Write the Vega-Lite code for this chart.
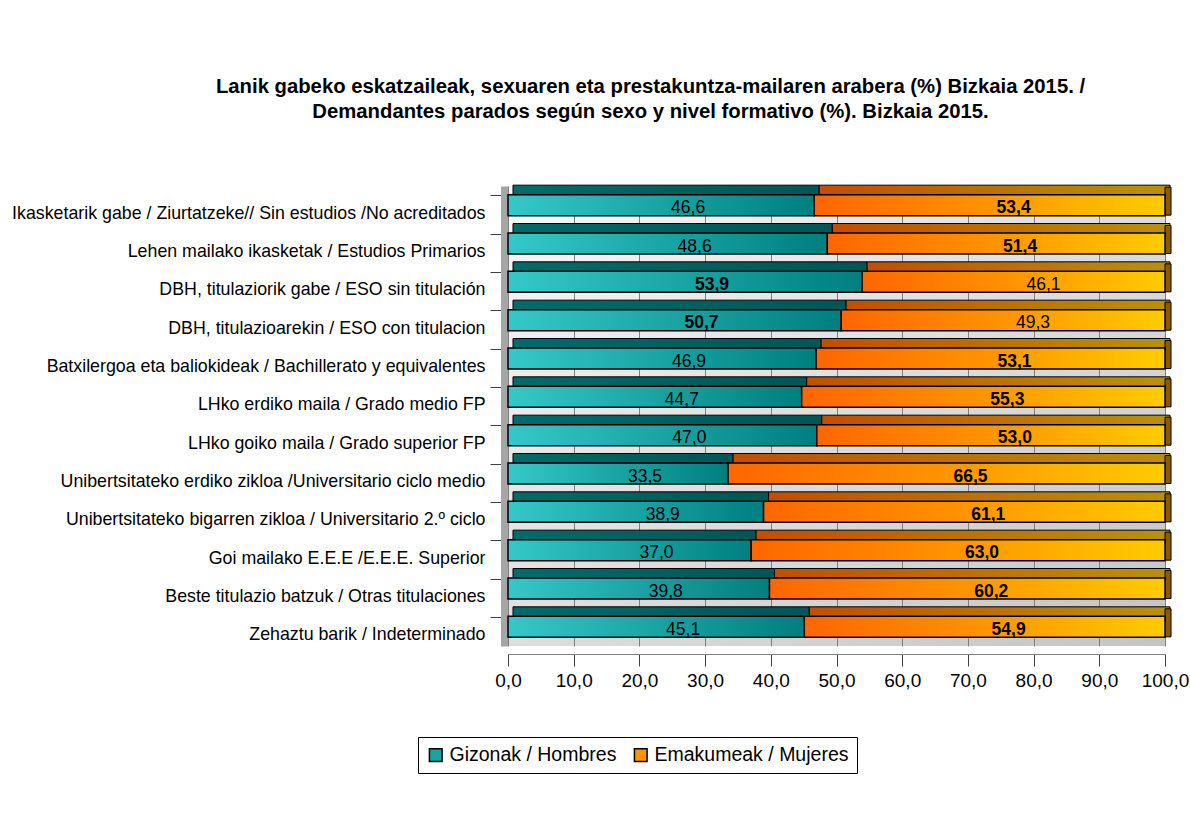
{
  "$schema": "https://vega.github.io/schema/vega-lite/v6.json",
  "autosize": "none",
  "padding": {"left": 508, "top": 186, "right": 25, "bottom": 192},
  "width": 657,
  "height": 460,
  "title": {
    "text": ["Lanik gabeko eskatzaileak, sexuaren eta prestakuntza-mailaren arabera (%) Bizkaia 2015. /", "Demandantes parados según sexo y nivel formativo (%). Bizkaia 2015."],
    "anchor": "middle",
    "frame": "group",
    "dx": -186,
    "offset": 62,
    "fontSize": 20.3,
    "fontWeight": "bold",
    "lineHeight": 25,
    "font": "Liberation Sans",
    "color": "#000000"
  },
  "data": {
    "values": [
      {"cat": "Ikasketarik gabe / Ziurtatzeke// Sin estudios /No acreditados", "sexo": "Gizonak / Hombres", "pct": 46.6},
      {"cat": "Ikasketarik gabe / Ziurtatzeke// Sin estudios /No acreditados", "sexo": "Emakumeak / Mujeres", "pct": 53.4},
      {"cat": "Lehen mailako ikasketak / Estudios Primarios", "sexo": "Gizonak / Hombres", "pct": 48.6},
      {"cat": "Lehen mailako ikasketak / Estudios Primarios", "sexo": "Emakumeak / Mujeres", "pct": 51.4},
      {"cat": "DBH, titulaziorik gabe / ESO sin titulación ", "sexo": "Gizonak / Hombres", "pct": 53.9},
      {"cat": "DBH, titulaziorik gabe / ESO sin titulación ", "sexo": "Emakumeak / Mujeres", "pct": 46.1},
      {"cat": "DBH, titulazioarekin / ESO con titulacion ", "sexo": "Gizonak / Hombres", "pct": 50.7},
      {"cat": "DBH, titulazioarekin / ESO con titulacion ", "sexo": "Emakumeak / Mujeres", "pct": 49.3},
      {"cat": "Batxilergoa eta baliokideak / Bachillerato y equivalentes", "sexo": "Gizonak / Hombres", "pct": 46.9},
      {"cat": "Batxilergoa eta baliokideak / Bachillerato y equivalentes", "sexo": "Emakumeak / Mujeres", "pct": 53.1},
      {"cat": "LHko erdiko maila / Grado medio FP", "sexo": "Gizonak / Hombres", "pct": 44.7},
      {"cat": "LHko erdiko maila / Grado medio FP", "sexo": "Emakumeak / Mujeres", "pct": 55.3},
      {"cat": "LHko goiko maila / Grado superior FP", "sexo": "Gizonak / Hombres", "pct": 47.0},
      {"cat": "LHko goiko maila / Grado superior FP", "sexo": "Emakumeak / Mujeres", "pct": 53.0},
      {"cat": "Unibertsitateko erdiko zikloa /Universitario ciclo medio ", "sexo": "Gizonak / Hombres", "pct": 33.5},
      {"cat": "Unibertsitateko erdiko zikloa /Universitario ciclo medio ", "sexo": "Emakumeak / Mujeres", "pct": 66.5},
      {"cat": "Unibertsitateko bigarren zikloa / Universitario 2.º ciclo", "sexo": "Gizonak / Hombres", "pct": 38.9},
      {"cat": "Unibertsitateko bigarren zikloa / Universitario 2.º ciclo", "sexo": "Emakumeak / Mujeres", "pct": 61.1},
      {"cat": "Goi mailako E.E.E /E.E.E. Superior ", "sexo": "Gizonak / Hombres", "pct": 37.0},
      {"cat": "Goi mailako E.E.E /E.E.E. Superior ", "sexo": "Emakumeak / Mujeres", "pct": 63.0},
      {"cat": "Beste titulazio batzuk / Otras titulaciones", "sexo": "Gizonak / Hombres", "pct": 39.8},
      {"cat": "Beste titulazio batzuk / Otras titulaciones", "sexo": "Emakumeak / Mujeres", "pct": 60.2},
      {"cat": "Zehaztu barik / Indeterminado", "sexo": "Gizonak / Hombres", "pct": 45.1},
      {"cat": "Zehaztu barik / Indeterminado", "sexo": "Emakumeak / Mujeres", "pct": 54.9}
    ]
  },
  "view": {
    "stroke": null,
    "fill": {"gradient": "linear", "x1": 0, "y1": 0, "x2": 1, "y2": 1, "stops": [{"offset": 0, "color": "#f8f8f8"}, {"offset": 1, "color": "#c4c4c4"}]}
  },
  "encoding": {
    "y": {
      "field": "cat", "type": "nominal", "sort": null, "title": null,
      "scale": {"paddingInner": 0, "paddingOuter": 0},
      "axis": {
        "offset": 4, "domain": true, "domainColor": "#a6a6a6", "domainWidth": 7,
        "ticks": true, "tickSize": 14, "tickColor": "#404040", "tickOffset": -10,
        "labelOffset": 18, "labelPadding": 5, "labelFontSize": 17.8, "labelFont": "Liberation Sans",
        "labelColor": "#000000", "labelLimit": 700, "grid": false
      }
    }
  },
  "layer": [
    {
      "mark": {"type": "bar", "height": 10, "yOffset": -15, "xOffset": 5, "stroke": "#000000", "strokeWidth": 1},
      "encoding": {
        "x": {"field": "pct", "type": "quantitative", "stack": "zero", "scale": {"domain": [0, 100], "nice": false}, "axis": null},
        "order": {"field": "sexo", "sort": "descending"},
        "fill": {
          "condition": {"test": "datum.sexo == 'Gizonak / Hombres'", "value": {"gradient": "linear", "x1": 0, "y1": 0, "x2": 1, "y2": 0, "stops": [{"offset": 0, "color": "#006b6b"}, {"offset": 1, "color": "#005656"}]}},
          "value": {"gradient": "linear", "x1": 0, "y1": 0, "x2": 1, "y2": 0, "stops": [{"offset": 0, "color": "#c24e00"}, {"offset": 1, "color": "#b8920c"}]}
        }
      }
    },
    {
      "transform": [{"filter": "datum.sexo == 'Emakumeak / Mujeres'"}],
      "mark": {"type": "bar", "height": 28, "yOffset": -4, "x2Offset": 6, "fill": "#8a5c00", "stroke": "#000000", "strokeWidth": 1},
      "encoding": {
        "x": {"datum": 100, "type": "quantitative", "scale": {"domain": [0, 100], "nice": false}, "axis": null},
        "x2": {"datum": 100}
      }
    },
    {
      "mark": {"type": "bar", "height": 21, "stroke": "#000000", "strokeWidth": 1.5},
      "encoding": {
        "x": {
          "field": "pct", "type": "quantitative", "stack": "zero", "title": null,
          "scale": {"domain": [0, 100], "nice": false},
          "axis": {
            "values": [0, 10, 20, 30, 40, 50, 60, 70, 80, 90, 100], "format": ".1f", "labelFlush": false,
            "offset": 8, "domain": true, "domainColor": "#808080", "ticks": true, "tickSize": 12, "tickColor": "#404040",
            "labelPadding": 5, "labelFontSize": 19, "labelFont": "Liberation Sans", "labelColor": "#000000",
            "grid": true, "gridColor": "#808080", "gridWidth": 1
          }
        },
        "order": {"field": "sexo", "sort": "descending"},
        "fill": {
          "condition": {"test": "datum.sexo == 'Gizonak / Hombres'", "value": {"gradient": "linear", "x1": 0, "y1": 0, "x2": 1, "y2": 0, "stops": [{"offset": 0, "color": "#35c8c8"}, {"offset": 1, "color": "#007f7f"}]}},
          "value": {"gradient": "linear", "x1": 0, "y1": 0, "x2": 1, "y2": 0, "stops": [{"offset": 0, "color": "#ff6600"}, {"offset": 0.5, "color": "#ff9400"}, {"offset": 1, "color": "#ffcc00"}]}
        }
      }
    },
    {
      "transform": [{"filter": "datum.pct < 0"}],
      "mark": {"type": "bar", "stroke": "#000000", "strokeWidth": 1.5},
      "encoding": {
        "x": {"field": "pct", "type": "quantitative", "scale": {"domain": [0, 100], "nice": false}, "axis": null},
        "fill": {
          "field": "sexo", "type": "nominal", "title": null,
          "scale": {"domain": ["Gizonak / Hombres", "Emakumeak / Mujeres"], "range": ["#1aa3a3", "#ff9400"]},
          "legend": {
            "orient": "none", "legendX": -90, "legendY": 551, "direction": "horizontal",
            "strokeColor": "#000000", "padding": 8, "symbolType": "square", "symbolSize": 160,
            "symbolStrokeColor": "#000000", "symbolStrokeWidth": 1.5, "labelFontSize": 19.5, "labelLimit": 400,
            "labelFont": "Liberation Sans", "labelColor": "#000000", "columnPadding": 14, "fillColor": "#ffffff"
          }
        }
      }
    },
    {
      "transform": [{"filter": "datum.sexo == 'Gizonak / Hombres' && datum.pct > 50"}],
      "mark": {"type": "text", "dx": 27, "dy": 3, "fontSize": 17.5, "fontWeight": "bold", "font": "Liberation Sans", "color": "#000000"},
      "encoding": {
        "x": {"field": "pct", "type": "quantitative", "scale": {"domain": [0, 200], "nice": false}, "axis": null},
        "text": {"field": "pct", "type": "quantitative", "format": ".1f"}
      }
    },
    {
      "transform": [{"filter": "datum.sexo == 'Gizonak / Hombres' && datum.pct <= 50"}],
      "mark": {"type": "text", "dx": 27, "dy": 3, "fontSize": 17.5, "fontWeight": "normal", "font": "Liberation Sans", "color": "#000000"},
      "encoding": {
        "x": {"field": "pct", "type": "quantitative", "scale": {"domain": [0, 200], "nice": false}, "axis": null},
        "text": {"field": "pct", "type": "quantitative", "format": ".1f"}
      }
    },
    {
      "transform": [{"filter": "datum.sexo == 'Emakumeak / Mujeres' && datum.pct > 50"}],
      "mark": {"type": "text", "dx": 24, "dy": 3, "fontSize": 17.5, "fontWeight": "bold", "font": "Liberation Sans", "color": "#000000"},
      "encoding": {
        "x": {"field": "pct", "type": "quantitative", "scale": {"domain": [0, 200], "nice": false, "reverse": true}, "axis": null},
        "text": {"field": "pct", "type": "quantitative", "format": ".1f"}
      }
    },
    {
      "transform": [{"filter": "datum.sexo == 'Emakumeak / Mujeres' && datum.pct <= 50"}],
      "mark": {"type": "text", "dx": 30, "dy": 3, "fontSize": 17.5, "fontWeight": "normal", "font": "Liberation Sans", "color": "#000000"},
      "encoding": {
        "x": {"field": "pct", "type": "quantitative", "scale": {"domain": [0, 200], "nice": false, "reverse": true}, "axis": null},
        "text": {"field": "pct", "type": "quantitative", "format": ".1f"}
      }
    }
  ],
  "resolve": {"scale": {"x": "independent"}},
  "config": {
    "locale": {"number": {"decimal": ",", "thousands": ".", "grouping": [3], "currency": ["", " €"]}},
    "background": "#ffffff"
  }
}
